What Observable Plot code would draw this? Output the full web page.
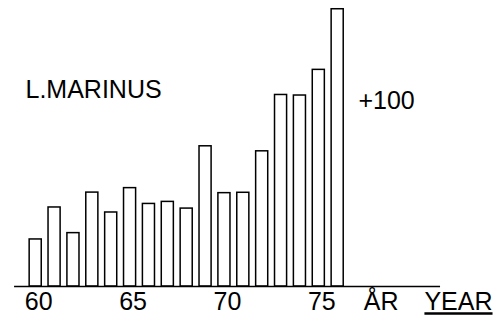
<!DOCTYPE html>
<html>
<head>
<meta charset="utf-8">
<script src="https://cdn.jsdelivr.net/npm/d3@7"></script>
<script src="https://cdn.jsdelivr.net/npm/@observablehq/plot@0.6"></script>
<style>
  html, body { margin: 0; padding: 0; background: #fff; }
  svg text { font-family: "Liberation Sans", Arial, sans-serif; }
</style>
</head>
<body>
<div id="chart"></div>
<script>
// Data
const years = [60, 61, 62, 63, 64, 65, 66, 67, 68, 69, 70, 71, 72, 73, 74, 75, 76];
const values = [25.3, 42.5, 28.7, 50.5, 39.8, 52.9, 44.4, 45.5, 41.9, 75.4, 50.2, 50.4, 72.7, 103, 102.7, 116.5, 149.1];
const tickYears = [60, 65, 70, 75];
const seriesLabel = ["L.MARINUS"];
const scaleMark = [{value: 100, label: "+100"}];
const axisWords = [{year: 78.3, label: "ÅR"}, {year: 82.4, label: "YEAR"}];
const axisExtent = [58.88, 81.45];

const data = years.map((y, i) => ({year: y, value: values[i]}));
const halfBar = 0.32;

const chart = Plot.plot({
  width: 501,
  height: 320,
  marginLeft: 0,
  marginRight: 0,
  marginTop: 0,
  marginBottom: 34,
  x: {type: "linear", domain: [58.135, 84.68], axis: null},
  y: {domain: [0, 153.8], axis: null},
  marks: [
    Plot.rect(data, {
      x1: d => d.year - halfBar,
      x2: d => d.year + halfBar,
      y1: 0,
      y2: "value",
      fill: "white",
      stroke: "black",
      strokeWidth: 1.5
    }),
    Plot.ruleY([0], {x1: axisExtent[0], x2: axisExtent[1], stroke: "black", strokeWidth: 1.6}),
    Plot.axisX(tickYears, {
      tickSize: 0, tickPadding: 6, fontSize: 25, dx: 3, tickFormat: d => String(d), fill: "black", label: null
    }),
    Plot.text(axisWords, {
      x: "year", y: 0, text: "label", fontSize: 25, lineAnchor: "top", dy: 6, fill: "black"
    }),
    Plot.text(seriesLabel, {
      x: 59.46, y: 101.2, text: d => d, textAnchor: "start", lineAnchor: "bottom", fontSize: 25, fill: "black"
    }),
    Plot.text(scaleMark, {
      x: 77.1, y: "value", text: "label", textAnchor: "start", lineAnchor: "middle", fontSize: 25, fill: "black"
    })
  ]
});

d3.select(chart).selectAll("text").filter(function() { return this.textContent === "YEAR"; })
  .style("text-decoration", "underline");

document.getElementById("chart").appendChild(chart);
</script>
</body>
</html>
